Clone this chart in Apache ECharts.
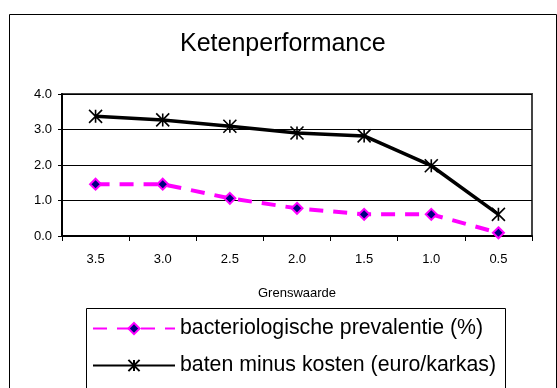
<!DOCTYPE html>
<html>
<head>
<meta charset="utf-8">
<script src="https://cdn.jsdelivr.net/npm/echarts@6/dist/echarts.min.js"></script>
<style>
	html, body { margin: 0; padding: 0; background: #fff; }
	#main { width: 557px; height: 388px; }
</style>
</head>
<body>
<div id="main"></div>
<script>
	var grenswaarden = ['3.5', '3.0', '2.5', '2.0', '1.5', '1.0', '0.5'];
	var prevalentie = [1.46, 1.46, 1.06, 0.78, 0.61, 0.61, 0.09];
	var batenMinKosten = [3.37, 3.27, 3.09, 2.9, 2.82, 1.98, 0.61];
	var yTicks = [0, 1, 2, 3, 4];
	var seriesNames = ['bacteriologische prevalentie (%)', 'baten minus kosten (euro/karkas)'];

	var font = 'Liberation Sans, Arial, sans-serif';

	var myChart = echarts.init(document.getElementById('main'));

	var option = {
		backgroundColor: '#fff',
		animation: false,
		title: {
			text: 'Ketenperformance',
			left: 180,
			top: 32,
			padding: 0,
			textStyle: { fontFamily: font, fontSize: 25, fontWeight: 'normal', color: '#000' }
		},
		// kaders rond grafiek en legenda
		graphic: [
			{
				type: 'rect', z: -1,
				shape: { x: 9.5, y: 14.5, width: 547, height: 380 },
				style: { fill: '#fff', stroke: '#000', lineWidth: 1 }
			},
			{
				type: 'rect', z: -1,
				shape: { x: 86.5, y: 308.5, width: 419, height: 90 },
				style: { fill: '#fff', stroke: '#000', lineWidth: 1 }
			}
		],
		legend: {
			orient: 'vertical',
			left: 92,
			top: 318,
			padding: 0,
			itemWidth: 82,
			itemHeight: 14,
			itemGap: 16,
			data: seriesNames,
			textStyle: { fontFamily: font, fontSize: 21.3, color: '#000' }
		},
		grid: {
			left: 62,
			top: 94,
			right: 25,
			bottom: 152,
			show: true,
			borderColor: '#444',
			borderWidth: 2,
			backgroundColor: '#fff'
		},
		xAxis: {
			type: 'category',
			data: grenswaarden,
			boundaryGap: true,
			name: 'Grenswaarde',
			nameLocation: 'middle',
			nameGap: 51,
			nameTextStyle: { fontFamily: font, fontSize: 13, color: '#000' },
			axisLine: { lineStyle: { color: '#000', width: 2 } },
			axisTick: { show: true, length: 5, lineStyle: { color: '#000', width: 1 } },
			axisLabel: { fontFamily: font, fontSize: 13, color: '#000', margin: 17 }
		},
		yAxis: {
			type: 'value',
			min: yTicks[0],
			max: yTicks[yTicks.length - 1],
			interval: 1,
			axisLine: { show: true, lineStyle: { color: '#000', width: 2 } },
			axisTick: { show: true, length: 4, lineStyle: { color: '#000', width: 1 } },
			axisLabel: {
				fontFamily: font, fontSize: 13, color: '#000', margin: 10,
				formatter: function (v) { return v.toFixed(1); }
			},
			splitLine: { lineStyle: { color: '#000', width: 1 } }
		},
		series: [
			{
				name: seriesNames[0],
				type: 'line',
				data: prevalentie,
				symbol: 'diamond',
				symbolSize: 11,
				itemStyle: { color: '#000080', borderColor: '#ff00ff', borderWidth: 2 },
				lineStyle: { color: '#ff00ff', width: 4, type: [14, 10] },
				z: 3
			},
			{
				name: seriesNames[1],
				type: 'line',
				data: batenMinKosten,
				symbol: 'path://M0,0L10,10M10,0L0,10M5,0L5,10',
				symbolSize: 13,
				itemStyle: { color: '#000', borderColor: '#000', borderWidth: 1.6 },
				lineStyle: { color: '#000', width: 3.5 },
				z: 4
			}
		]
	};

	myChart.setOption(option);
</script>
</body>
</html>
